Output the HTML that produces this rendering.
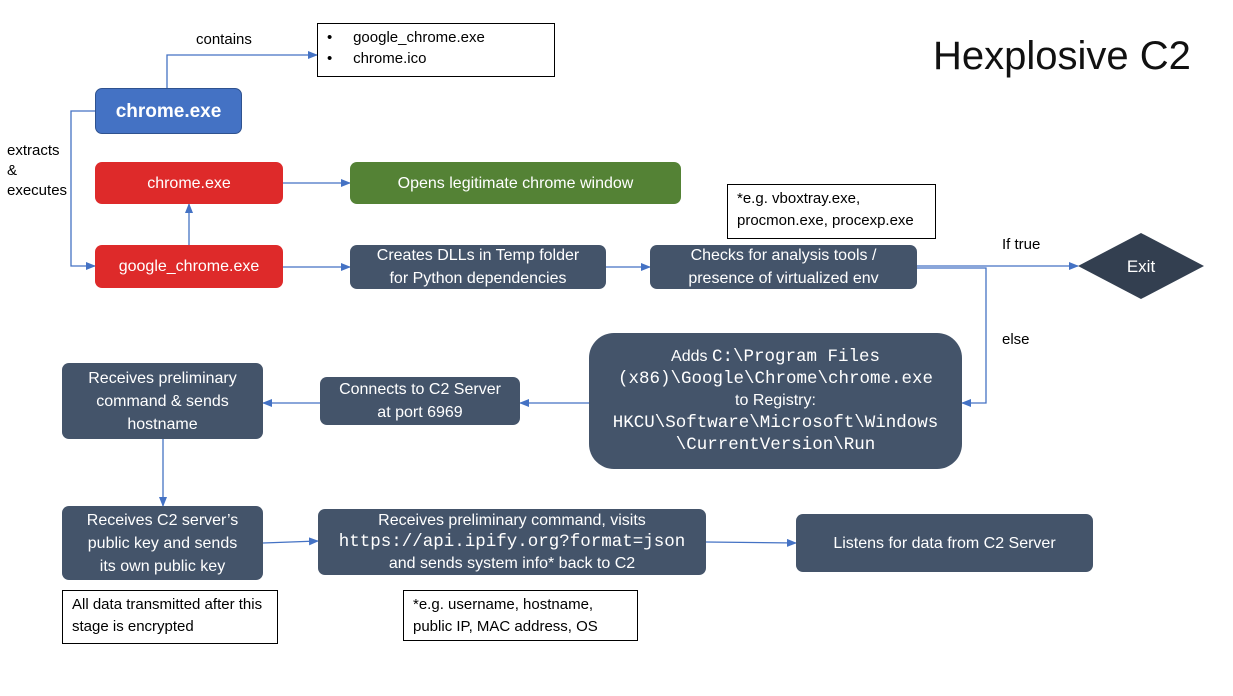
<!DOCTYPE html><html><head><style>
body{margin:0;width:1233px;height:696px;background:#fff;position:relative;font-family:"Liberation Sans",sans-serif;overflow:hidden}
.b{position:absolute;display:flex;align-items:center;justify-content:center;text-align:center;color:#fff;font-size:16px;line-height:23px;box-sizing:border-box;border-radius:7px}
.b>div{width:100%;white-space:nowrap}
.s{background:#44546A}.r{background:#DE2A2A}
.t{position:absolute;border:1px solid #000;background:#fff;font-size:15px;line-height:22px;box-sizing:border-box;padding:3px 9px}
.m{font-family:"Liberation Mono",monospace;font-size:17.5px}
.l{position:absolute;font-size:15px}
</style></head><body>
<svg width="1233" height="696" style="position:absolute;left:0;top:0">
<defs><marker id="a" markerWidth="10" markerHeight="8" refX="9" refY="4" orient="auto" markerUnits="userSpaceOnUse"><path d="M0,0L10,4L0,8z" fill="#4472C4"/></marker></defs>
<g stroke="#4472C4" stroke-width="1.3" fill="none" marker-end="url(#a)">
<path d="M167,88V55H317"/>
<path d="M95,111H71V266H95"/>
<path d="M189,245V204"/>
<path d="M283,183H350"/>
<path d="M283,267H350"/>
<path d="M606,267H650"/>
<path d="M917,266H1078"/>
<path d="M917,268H986V403H962"/>
<path d="M589,403H520"/>
<path d="M320,403H263"/>
<path d="M163,439V506"/>
<path d="M263,543L318,541"/>
<path d="M706,542L796,543"/>
</g>
<polygon points="1141,233 1204,266 1141,299 1078,266" fill="#333F50"/>
<text x="1141" y="272" fill="#fff" font-size="17" text-anchor="middle" font-family="Liberation Sans">Exit</text>
</svg>
<div class="l" style="left:196px;top:31px">contains</div>
<div class="l" style="left:7px;top:141px;line-height:20px">extracts<br>&amp;<br>executes</div>
<div class="l" style="left:1002px;top:236px">If true</div>
<div class="l" style="left:1002px;top:331px">else</div>
<div style="position:absolute;left:933px;top:34px;font-size:40px;color:#111">Hexplosive C2</div>
<div class="t" style="left:317px;top:23px;width:238px;height:54px;line-height:21px">•&nbsp;&nbsp;&nbsp;&nbsp;&nbsp;google_chrome.exe<br>•&nbsp;&nbsp;&nbsp;&nbsp;&nbsp;chrome.ico</div>
<div class="t" style="left:727px;top:184px;width:209px;height:55px">*e.g. vboxtray.exe, procmon.exe, procexp.exe</div>
<div class="t" style="left:62px;top:590px;width:216px;height:54px">All data transmitted after this stage is encrypted</div>
<div class="t" style="left:403px;top:590px;width:235px;height:51px">*e.g. username, hostname, public IP, MAC address, OS</div>
<div class="b" style="left:95px;top:88px;width:147px;height:46px;background:#4472C4;border:1px solid #2F528F;font-weight:bold;font-size:19px">chrome.exe</div>
<div class="b r" style="left:95px;top:162px;width:188px;height:42px">chrome.exe</div>
<div class="b r" style="left:95px;top:245px;width:188px;height:43px">google_chrome.exe</div>
<div class="b" style="left:350px;top:162px;width:331px;height:42px;background:#548235">Opens legitimate chrome window</div>
<div class="b s" style="left:350px;top:245px;width:256px;height:44px"><div>Creates DLLs in Temp folder<br>for Python dependencies</div></div>
<div class="b s" style="left:650px;top:245px;width:267px;height:44px"><div>Checks for analysis tools /<br>presence of virtualized env</div></div>
<div class="b s" style="left:589px;top:333px;width:373px;height:136px;border-radius:25px;line-height:22px"><div>Adds <span class="m">C:\Program Files</span><br><span class="m">(x86)\Google\Chrome\chrome.exe</span><br>to Registry:<br><span class="m">HKCU\Software\Microsoft\Windows</span><br><span class="m">\CurrentVersion\Run</span></div></div>
<div class="b s" style="left:320px;top:377px;width:200px;height:48px"><div>Connects to C2 Server<br>at port 6969</div></div>
<div class="b s" style="left:62px;top:363px;width:201px;height:76px"><div>Receives preliminary<br>command &amp; sends<br>hostname</div></div>
<div class="b s" style="left:62px;top:506px;width:201px;height:74px"><div>Receives C2 server’s<br>public key and sends<br>its own public key</div></div>
<div class="b s" style="left:318px;top:509px;width:388px;height:66px;line-height:21px"><div>Receives preliminary command, visits<br><span class="m">https://api.ipify.org?format=json</span><br>and sends system info* back to C2</div></div>
<div class="b s" style="left:796px;top:514px;width:297px;height:58px">Listens for data from C2 Server</div>
</body></html>
